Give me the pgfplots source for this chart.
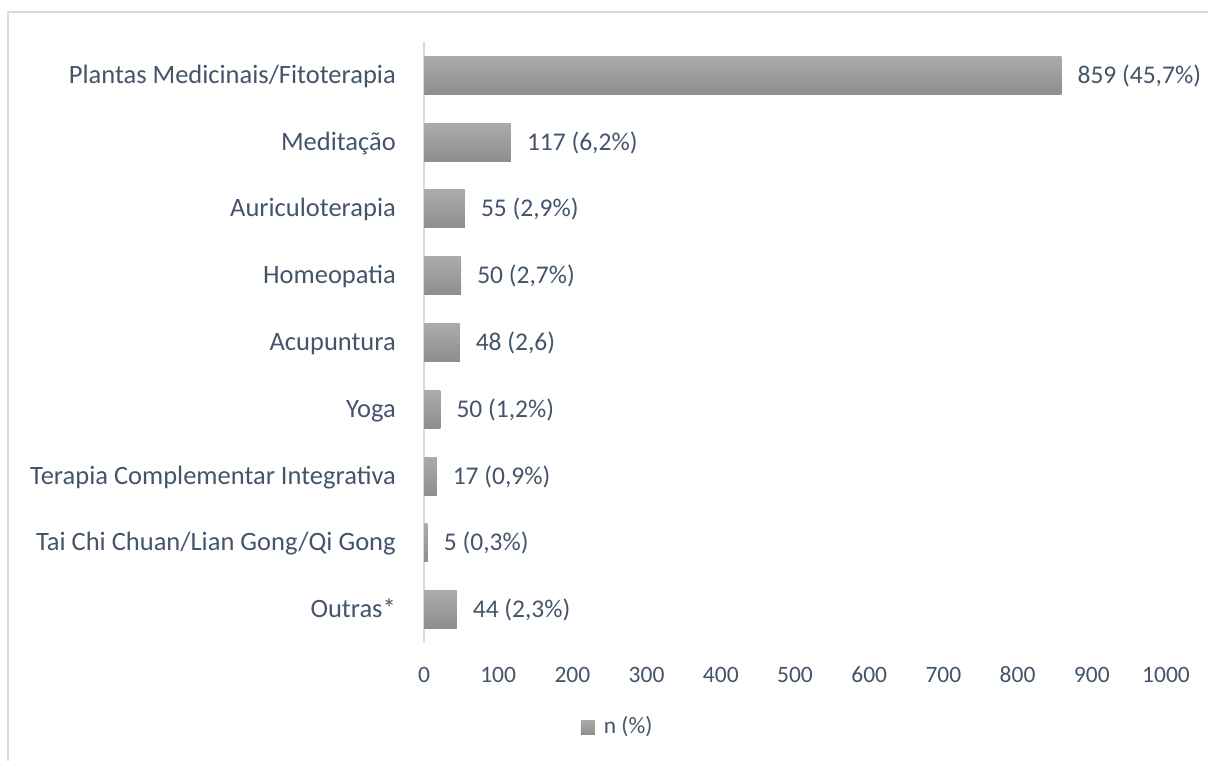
\documentclass[border=0pt]{standalone}
\usepackage{fontspec}
\setmainfont{Carlito}
\usepackage{pgfplots}
\pgfplotsset{compat=1.18}
\definecolor{txt}{HTML}{44546A}
\definecolor{barTop}{HTML}{ABABAB}
\definecolor{barBot}{HTML}{8E8E8E}
\definecolor{frame}{HTML}{D9D9D9}
\begin{document}
\fontsize{23.5bp}{28bp}\selectfont
\begin{tikzpicture}
\useasboundingbox (0bp,0bp) rectangle (1208bp,761bp);
\draw[frame, line width=1.2bp] (8bp,0bp) -- (8bp,749bp) -- (1208bp,749bp);
\begin{axis}[
  at={(424bp,118bp)}, anchor=south west,
  scale only axis, width=742bp, height=601bp,
  xbar, bar width=38bp, bar shift=0pt,
  y dir=reverse,
  ymin=-0.5, ymax=8.5,
  xmin=0, xmax=1000,
  xtick={0,100,...,1000},
  ytick={0,...,8},
  yticklabels={Plantas Medicinais/Fitoterapia,Meditação,Auriculoterapia,Homeopatia,Acupuntura,Yoga,Terapia Complementar Integrativa,Tai Chi Chuan/Lian Gong/Qi Gong,Outras*},
  axis lines*=left,
  x axis line style={draw=none},
  y axis line style={draw=frame, line width=1.2bp},
  major tick length=0pt,
  /pgf/number format/assume math mode=true,
  /pgf/number format/1000 sep={},
  ticklabel style={font=\fontsize{23.5bp}{28bp}\selectfont, text=txt, inner sep=0pt},
  xticklabel style={anchor=base, yshift=-39bp},
  yticklabel style={anchor=base east, xshift=-28bp, yshift=-8bp, font=\fontsize{26.5bp}{30bp}\selectfont},
  nodes near coords,
  point meta=explicit symbolic,
  nodes near coords style={anchor=base west, xshift=16bp, yshift=-8bp, inner sep=0pt, text=txt, font=\fontsize{25.5bp}{30bp}\selectfont},
  legend style={at={(axis description cs:0.261,-0.14)}, anchor=center, draw=none, fill=none, font=\fontsize{23.5bp}{28bp}\selectfont, text=txt, inner sep=0pt, /tikz/every odd column/.append style={column sep=7bp}},
  legend image code/.code={\fill[top color=barTop, bottom color=barBot] (0bp,-7bp) rectangle (14bp,7bp);},
  clip=false,
  every axis plot/.append style={draw=none, top color=barTop, bottom color=barBot},
]
\addplot coordinates {(859,0) [859 (45,7\%)]};
\addlegendentry{n (\%)}
\addplot coordinates {(117,1) [117 (6,2\%)]};
\addplot coordinates {(55,2) [55 (2,9\%)]};
\addplot coordinates {(50,3) [50 (2,7\%)]};
\addplot coordinates {(48,4) [48 (2,6)]};
\addplot coordinates {(22,5) [50 (1,2\%)]};
\addplot coordinates {(17,6) [17 (0,9\%)]};
\addplot coordinates {(5,7) [5 (0,3\%)]};
\addplot coordinates {(44,8) [44 (2,3\%)]};
\end{axis}
\end{tikzpicture}
\end{document}
